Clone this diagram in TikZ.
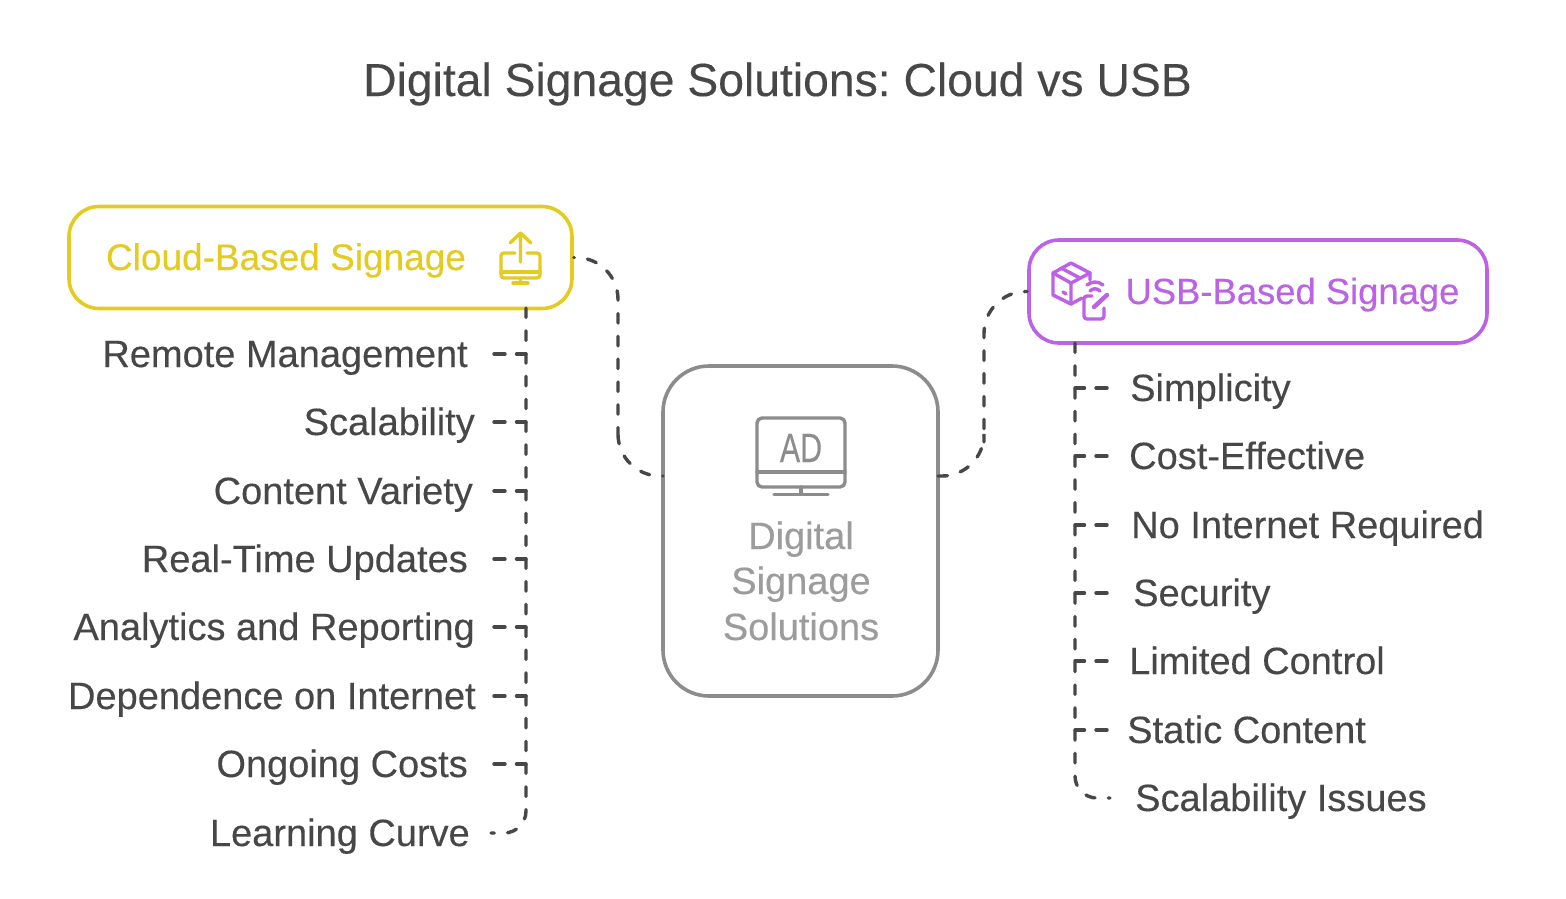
\documentclass[tikz,border=0pt]{standalone}
\usepackage{fontspec}
\setmainfont[FakeBold=0.25]{Liberation Sans}
\colorlet{mydark}{black!72}
\definecolor{myyellow}{HTML}{E3CB1F}
\definecolor{mypurple}{HTML}{BC62E6}
\definecolor{mygrey}{HTML}{8C8C8C}
\definecolor{mylight}{HTML}{9C9C9C}
\frenchspacing

\begin{document}
\begin{tikzpicture}[x=1pt,y=-1pt]
\tikzset{BoxStyle/.style ={draw, line width=3.6pt, fill=white, rounded corners=30pt, inner sep=0},
  ItemStyle/.style ={text=mydark, font=\fontsize{38}{44}\selectfont, inner sep=0},
  DashStyle/.style ={draw=mydark, line width=3.4pt, line cap=round, dash pattern=on 9.5pt off 13.3pt},
  TwigStyle/.style ={draw=mydark, line width=3.4pt, line cap=round, dash pattern=on 9.5pt off 11.5pt on 11.5pt off 50pt},
  IconStyle/.style ={line width=3.4pt, line cap=round, line join=round}}
\useasboundingbox (0,0) rectangle (1566,898);
\node[text=mydark, font=\fontsize{46.3}{50}\selectfont, inner sep=0, anchor=base] (title) at (777.5,96) {Digital Signage Solutions: Cloud vs USB};
% boxes
\node[BoxStyle, draw=myyellow, minimum width=503pt, minimum height=102pt] (cloud) at (320.5,257.5) {};
\node[BoxStyle, draw=mypurple, minimum width=458pt, minimum height=103pt] (usb) at (1258,291.5) {};
\node[BoxStyle, draw=mygrey, rounded corners=46pt, minimum width=275pt, minimum height=330pt] (main) at (800.5,531) {};
\node[ItemStyle, text=myyellow, font=\fontsize{37}{44}\selectfont, anchor=base] (cloudtxt) at (286,270) {Cloud-Based Signage};
\node[ItemStyle, text=mypurple, font=\fontsize{36.4}{44}\selectfont, anchor=base] (usbtxt) at (1292.5,304) {USB-Based Signage};
\node[ItemStyle, text=mylight, anchor=base] (maina) at (801,549) {Digital};
\node[ItemStyle, text=mylight, anchor=base] (mainb) at (801,594) {Signage};
\node[ItemStyle, text=mylight, anchor=base] (mainc) at (801,640) {Solutions};
% left items
\foreach \i/\x/\y/\t in {1/468/354/Remote Management, 2/475/422/Scalability, 3/473/491/Content Variety,
  4/468/559/Real-Time Updates, 5/475/627/Analytics and Reporting, 6/476/696/Dependence on Internet,
  7/468/764/Ongoing Costs, 8/470/833/Learning Curve}
  \node[ItemStyle, anchor=base east] (left\i) at (\x,\y+13) {\t};
\foreach \i/\y in {1/354, 2/422, 3/491, 4/559, 5/627, 6/696, 7/764}{
  \coordinate (lj\i) at (526,\y);
  \coordinate (le\i) at (494,\y);
  \draw[TwigStyle] (lj\i) -- (le\i);
}
% right items
\foreach \i/\x/\y/\t in {1/1130/388/Simplicity, 2/1129/456/Cost-Effective, 3/1131/525/No Internet Required,
  4/1133/593/Security, 5/1129/661/Limited Control, 6/1127/730/Static Content, 7/1135/798/Scalability Issues}
  \node[ItemStyle, anchor=base west] (right\i) at (\x,\y+13) {\t};
\foreach \i/\y in {1/388, 2/456, 3/525, 4/593, 5/661, 6/730}{
  \coordinate (rj\i) at (1075,\y);
  \coordinate (re\i) at (1107,\y);
  \draw[TwigStyle] (rj\i) -- (re\i);
}
% connectors
\coordinate (lt) at (526,308);
\coordinate (le8) at (491,833);
\coordinate (rt) at (1075,343);
\coordinate (re7) at (1110,798);
\coordinate (mw) at (663,476);
\coordinate (me) at (938,476);
\draw[DashStyle, rounded corners=22pt] (lt) |- (le8);
\draw[DashStyle, rounded corners=22pt] (rt) |- (re7);
\draw[DashStyle, rounded corners=42pt, dash phase=9pt] (cloud.east) -| (618,400) |- (mw);
\draw[DashStyle, rounded corners=42pt] (me) -| (984,400) |- (usb.west);
% upload icon
\begin{scope}[IconStyle, draw=myyellow]
\draw[rounded corners=3pt] (515,253) -- (501,253) -- (501,278) -- (540,278) -- (540,253) -- (527,253);
\draw (501,272) -- (540,272) (520.5,278) -- (520.5,282) (513,283) -- (528,283);
\draw (520.5,262) -- (520.5,233) (510,243) -- (520.5,233) -- (531,243);
\end{scope}
% package icon
\begin{scope}[IconStyle, draw=mypurple]
\draw (1071,263) -- (1090,273) -- (1071,283) -- (1053,273) -- cycle;
\draw (1053,273) -- (1053,295) -- (1071,304) -- (1071,283);
\draw (1090,273) -- (1090,280) (1071,304) -- (1082,298);
\draw (1061,268) -- (1080,278) (1063,292) -- (1066,294);
\draw (1087,285) .. controls (1092,281) and (1098,281) .. (1103,285);
\draw (1090,291) .. controls (1093,288) and (1097,288) .. (1100,291);
\draw[rounded corners=3pt] (1092,296) -- (1084,296) -- (1084,319) -- (1104,319) -- (1104,308);
\draw[line width=4.4pt] (1094,307) -- (1107,295);
\end{scope}
% monitor icon
\begin{scope}[IconStyle, draw=mygrey]
\draw[rounded corners=5pt] (757,418) rectangle (845,487);
\draw (757,472) -- (845,472) (801,487) -- (801,494) (774,494.5) -- (828,494.5);
\end{scope}
\node[text=mygrey, font=\fontsize{41}{44}\selectfont, inner sep=0, xscale=.74, anchor=base] (adtxt) at (801,462) {AD};
\end{tikzpicture}
\end{document}
